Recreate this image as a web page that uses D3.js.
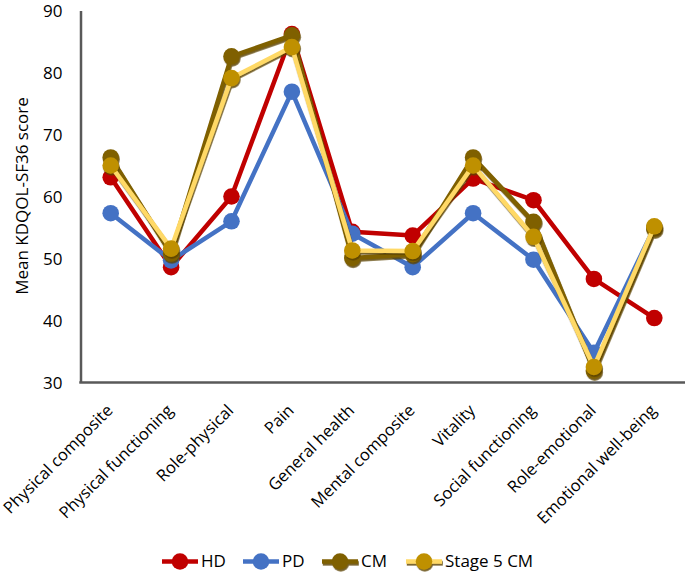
<!DOCTYPE html>
<html>
<head>
<meta charset="utf-8">
<script src="https://cdn.jsdelivr.net/npm/d3@7"></script>
<style>
  html, body { margin: 0; padding: 0; background: #fff; }
  svg { display: block; font-family: "Open Sans", "DejaVu Sans", sans-serif; }
</style>
</head>
<body>
<div id="chart"></div>
<script>
const categories = ["Physical composite", "Physical functioning", "Role-physical", "Pain", "General health",
  "Mental composite", "Vitality", "Social functioning", "Role-emotional", "Emotional well-being"];
const seriesNames = ["HD", "PD", "CM", "Stage 5 CM"];
const hdValues = [63.1, 48.6, 60.0, 86.2, 54.3, 53.7, 62.9, 59.4, 46.7, 40.4];
const pdValues = [57.3, 49.7, 56.0, 76.9, 54.0, 48.6, 57.3, 49.8, 34.8, 55.0];
const cmValues = [66.3, 50.8, 82.6, 86.0, 50.1, 50.7, 66.3, 55.9, 31.9, 54.8];
const s5Values = [65.0, 51.6, 79.1, 84.1, 51.3, 51.2, 65.0, 53.5, 32.5, 55.2];
const yTicks = [30, 40, 50, 60, 70, 80, 90];
const yTitle = "Mean KDQOL-SF36 score";

const W = 685, H = 573;
const svg = d3.select("#chart").append("svg").attr("width", W).attr("height", H);

const defs = svg.append("defs");
const f = defs.append("filter").attr("id", "shadow").attr("x", "-20%").attr("y", "-20%")
  .attr("width", "140%").attr("height", "140%");
f.append("feDropShadow").attr("dx", 0.8).attr("dy", 1.8).attr("stdDeviation", 0.6)
  .attr("flood-color", "#5c4300").attr("flood-opacity", 0.85);

const x = d3.scaleBand().domain(categories).range([80.5, 684.5]);
const y = d3.scaleLinear().domain([30, 90]).range([382.5, 10.5]);
const cx = d => x(d) + x.bandwidth() / 2;

const series = [
  { name: seriesNames[0], values: hdValues, line: "#C00000", marker: "#C00000", shadow: false },
  { name: seriesNames[1], values: pdValues, line: "#4472C4", marker: "#4472C4", shadow: false },
  { name: seriesNames[2], values: cmValues, line: "#7F6000", marker: "#7F6000", shadow: true },
  { name: seriesNames[3], values: s5Values, line: "#FFD966", marker: "#BF9000", shadow: true }
];

// axes
const axisColor = "#595959";
const yAxis = svg.append("g").attr("transform", "translate(80.5,0)")
  .call(d3.axisLeft(y).tickValues(yTicks).tickSize(0).tickPadding(18).tickFormat(d3.format("d")));
yAxis.select(".domain").attr("stroke", axisColor).attr("stroke-width", 2.5);
yAxis.selectAll("text").attr("font-size", 17).attr("fill", "#000").attr("font-family", "Open Sans")
  .attr("dy", "0.36em");

const xAxis = svg.append("g").attr("transform", "translate(0,382.5)")
  .call(d3.axisBottom(x).tickSize(0).tickFormat(""));
xAxis.select(".domain").attr("stroke", axisColor).attr("stroke-width", 2.5)
  .attr("d", "M79.3,0H685");

xAxis.selectAll(".tick").append("text")
  .attr("transform", "translate(3,29) rotate(-45)")
  .attr("text-anchor", "end")
  .attr("fill", "#000")
  .attr("font-size", 16.5)
  .attr("font-family", "Open Sans")
  .text(d => d);

svg.append("text")
  .attr("transform", "translate(28,196) rotate(-90)")
  .attr("text-anchor", "middle")
  .attr("font-size", 17)
  .attr("fill", "#000")
  .text(yTitle);

// lines
const lineGen = d3.line().x((d, i) => cx(categories[i])).y(d => y(d));
series.forEach(s => {
  const g = svg.append("g");
  if (s.shadow) g.attr("filter", "url(#shadow)");
  g.append("path").datum(s.values).attr("d", lineGen)
    .attr("fill", "none").attr("stroke", s.line).attr("stroke-width", 4.5)
    .attr("stroke-linejoin", "round");
  g.selectAll("circle").data(s.values).join("circle")
    .attr("cx", (d, i) => cx(categories[i])).attr("cy", d => y(d)).attr("r", 8.3)
    .attr("fill", s.marker);
});

// legend
const legendX = [162, 243, 322, 406];
const legendY = 561.5;
series.forEach((s, i) => {
  const g = svg.append("g").attr("transform", `translate(${legendX[i]},${legendY})`);
  if (s.shadow) g.attr("filter", "url(#shadow)");
  g.append("line").attr("x1", 0).attr("x2", 36).attr("y1", 0).attr("y2", 0)
    .attr("stroke", s.line).attr("stroke-width", 4.5);
  g.append("circle").attr("cx", 18).attr("cy", 0).attr("r", 8.3).attr("fill", s.marker);
  svg.append("text").attr("x", legendX[i] + 39).attr("y", legendY)
    .attr("dy", "0.35em").attr("font-size", 17).attr("fill", "#000").text(s.name);
});
</script>
</body>
</html>
